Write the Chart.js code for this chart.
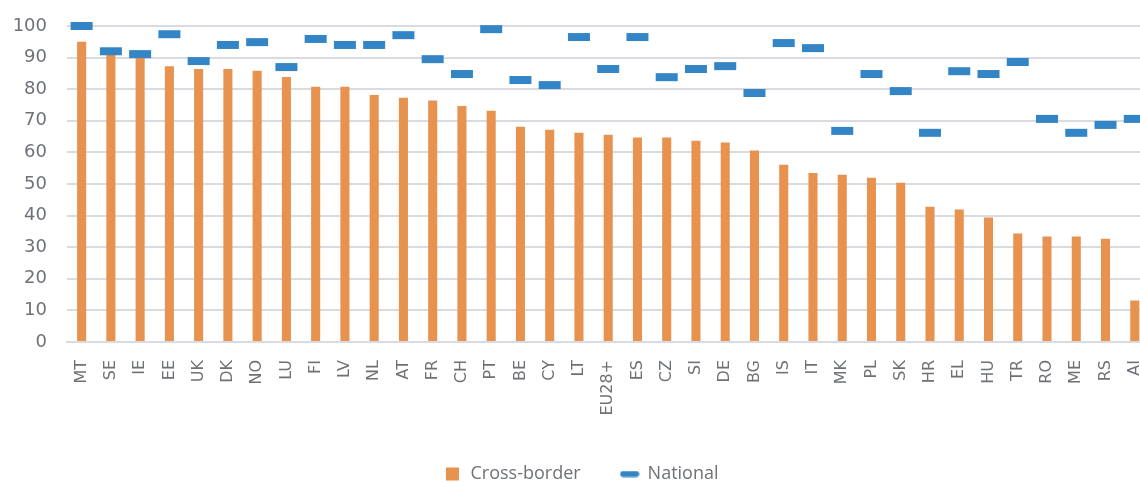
<!DOCTYPE html>
<html>
<head>
<meta charset="utf-8">
<script src="https://cdn.jsdelivr.net/npm/chart.js@4/dist/chart.umd.min.js"></script>
<style>
  html, body { margin: 0; padding: 0; background: #ffffff; overflow: hidden; }
  #wrap { width: 1164px; height: 483px; position: relative; }
</style>
</head>
<body>
<div id="wrap"><canvas id="rateChart"></canvas></div>
<script>
const countries = ['MT', 'SE', 'IE', 'EE', 'UK', 'DK', 'NO', 'LU', 'FI', 'LV', 'NL', 'AT', 'FR', 'CH', 'PT', 'BE', 'CY', 'LT', 'EU28+',
    'ES', 'CZ', 'SI', 'DE', 'BG', 'IS', 'IT', 'MK', 'PL', 'SK', 'HR', 'EL', 'HU', 'TR', 'RO', 'ME', 'RS', 'AI'];

const crossBorder = [95, 91, 90, 87.3, 86.4, 86.4, 85.8, 83.9, 80.8, 80.8, 78.2, 77.3, 76.4, 74.7, 73.2, 68.1, 67.2, 66.2, 65.6,
    64.7, 64.7, 63.7, 63.1, 60.6, 56.1, 53.5, 52.9, 52.0, 50.4, 42.8, 41.9, 39.4, 34.3, 33.4, 33.4, 32.7, 13.1];

const national = [100, 92, 91.1, 97.4, 88.9, 94, 94.9, 87, 95.9, 94, 94, 97.1, 89.5, 84.8, 99, 82.9, 81.3, 96.5, 86.4,
    96.5, 83.8, 86.4, 87.3, 78.8, 94.6, 93, 66.8, 84.8, 79.4, 66.2, 85.7, 84.8, 88.6, 70.6, 66.2, 68.7, 70.6];

const yTicks = [0, 10, 20, 30, 40, 50, 60, 70, 80, 90, 100];

const textGrey = '#6e7277';
const gridGrey = '#d9dbe1';
const blue = '#3385c6';
const orange = '#e8924f';

// little pill used as the legend symbol for the national marks
const pill = document.createElement('canvas');
pill.width = 20;
pill.height = 7;
const pctx = pill.getContext('2d');
pctx.fillStyle = blue;
pctx.beginPath();
pctx.roundRect(0.5, 0.5, 19, 6, 3);
pctx.fill();

const ctx = document.getElementById('rateChart').getContext('2d');

new Chart(ctx, {
    type: 'bar',
    data: {
        labels: countries,
        datasets: [{
            type: 'line',
            label: 'National',
            data: national,
            showLine: false,
            clip: false,
            borderColor: blue,
            backgroundColor: blue,
            pointStyle: 'line',
            pointRadius: 11,
            pointHoverRadius: 11,
            pointBorderWidth: 8,
            pointHoverBorderWidth: 8,
            order: 0
        }, {
            label: 'Cross-border',
            data: crossBorder,
            backgroundColor: orange,
            borderWidth: 0,
            pointStyle: 'rect',
            barPercentage: 0.31,
            categoryPercentage: 1,
            order: 1
        }]
    },
    options: {
        responsive: true,
        maintainAspectRatio: false,
        animation: false,
        layout: {
            autoPadding: false,
            padding: { top: 0, right: 2, bottom: -10, left: 0 }
        },
        plugins: {
            legend: {
                display: true,
                position: 'bottom',
                reverse: true,
                labels: {
                    color: textGrey,
                    font: { family: 'Open Sans', size: 18 },
                    usePointStyle: true,
                    boxHeight: 13,
                    padding: 40,
                    generateLabels: chart => {
                        const items = Chart.defaults.plugins.legend.labels.generateLabels(chart);
                        items.forEach(it => {
                            if (it.text === 'National') it.pointStyle = pill;
                        });
                        return items;
                    }
                }
            },
            tooltip: { enabled: false }
        },
        scales: {
            y: {
                min: 0,
                max: 100,
                afterFit: s => { s.width = 67; s.paddingTop = 26; },
                afterBuildTicks: s => { s.ticks = yTicks.map(v => ({ value: v })); },
                ticks: {
                    color: textGrey,
                    padding: 20,
                    font: { family: 'DejaVu Sans', size: 18 }
                },
                grid: {
                    color: gridGrey,
                    lineWidth: 2,
                    drawTicks: false
                },
                border: { display: false }
            },
            x: {
                offset: true,
                afterFit: s => { s.height = 83; },
                ticks: {
                    color: textGrey,
                    padding: 10,
                    minRotation: 90,
                    maxRotation: 90,
                    autoSkip: false,
                    font: { family: 'DejaVu Sans', size: 16 }
                },
                grid: { display: false },
                border: { color: gridGrey, width: 2 }
            }
        }
    }
});
</script>
</body>
</html>
